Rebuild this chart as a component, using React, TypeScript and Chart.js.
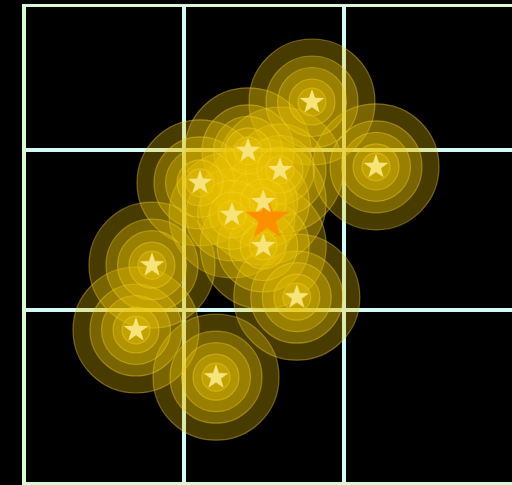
import { useEffect, useRef } from 'react';
import { Chart, registerables } from 'chart.js';

Chart.register(...registerables);

// Star markers (data values)
const xValues = [18, 14, 16, 11, 22, 14.95, 13, 14.95, 8, 17.05, 7, 12];
const yValues = [13, 9.95, 8.75, 7.95, 8.95, 6.75, 5.95, 4, 2.8, 0.8, -1.25, -4.2];

// Highlighted (orange) marker
const highlightX = [15.2];
const highlightY = [5.7];

// Axis ranges and grid ticks
const xMin = 0;
const xMax = 31.3125;
const yMin = -10.875;
const yMax = 19.03125;
const xTicks = [10, 20];
const yTicks = [0, 10];

// Ripple ring radii
const ringRadii = [14, 23, 34.5, 46, 63];

function makeStar(R: number, fill: string): HTMLCanvasElement {
  const size = Math.ceil(R * 2 + 2);
  const c = document.createElement('canvas');
  c.width = size;
  c.height = size;
  const ctx = c.getContext('2d')!;
  const cx = size / 2;
  const cy = size / 2;
  ctx.beginPath();
  for (let i = 0; i < 10; i++) {
    const rad = i % 2 === 0 ? R : R * 0.4;
    const a = -Math.PI / 2 + (i * Math.PI) / 5;
    const px = cx + rad * Math.cos(a);
    const py = cy + rad * Math.sin(a);
    if (i === 0) ctx.moveTo(px, py);
    else ctx.lineTo(px, py);
  }
  ctx.closePath();
  ctx.fillStyle = fill;
  ctx.fill();
  return c;
}

const GRID = 'rgb(212,250,248)';
const BORDER = 'rgb(218,248,212)';

export default function App() {
  const ref = useRef<HTMLCanvasElement>(null);
  useEffect(() => {
    if (!ref.current) return;
    const pts = xValues.map((x, i) => ({ x, y: yValues[i] }));
    const hl = highlightX.map((x, i) => ({ x, y: highlightY[i] }));
    const starImg = makeStar(13, 'rgb(246,228,122)');
    const orangeImg = makeStar(23, 'rgba(255,140,0,0.93)');
    const ringSets = ringRadii.map((r) => ({
      label: 'ring' + r,
      data: pts,
      pointStyle: 'circle' as const,
      pointRadius: r,
      pointHoverRadius: r,
      backgroundColor: 'rgba(235,195,0,0.3)',
      borderColor: 'rgba(250,215,50,0.4)',
      borderWidth: 1.2,
    }));
    const chart = new Chart(ref.current, {
      type: 'scatter',
      data: {
        datasets: [
          { label: 'stars', data: pts, pointStyle: starImg as any, pointRadius: 13 },
          { label: 'highlight', data: hl, pointStyle: orangeImg as any, pointRadius: 23 },
          ...ringSets,
        ],
      },
      options: {
        responsive: true,
        maintainAspectRatio: false,
        animation: false,
        events: [],
        layout: { autoPadding: false, padding: { left: 24, top: 5.5, right: 5, bottom: 6 } },
        plugins: { legend: { display: false }, tooltip: { enabled: false } },
        scales: {
          x: {
            type: 'linear',
            position: 'bottom',
            min: xMin,
            max: xMax,
            afterBuildTicks: (s: any) => {
              s.ticks = xTicks.map((v) => ({ value: v }));
            },
            grid: { color: GRID, lineWidth: 4, drawTicks: false },
            border: { display: true, color: BORDER, width: 4 },
            ticks: { display: false },
          },
          xTop: {
            type: 'linear',
            position: 'top',
            min: xMin,
            max: xMax,
            grid: { display: false, drawTicks: false },
            border: { display: true, color: BORDER, width: 3 },
            ticks: { display: false },
          },
          y: {
            type: 'linear',
            min: yMin,
            max: yMax,
            afterBuildTicks: (s: any) => {
              s.ticks = yTicks.map((v) => ({ value: v }));
            },
            grid: { color: GRID, lineWidth: 4, drawTicks: false },
            border: { display: true, color: BORDER, width: 4 },
            ticks: { display: false },
          },
        },
      },
    });
    return () => chart.destroy();
  }, []);
  return (
    <div style={{ position: 'fixed', left: 0, top: 0, width: 530, height: 490, background: '#000' }}>
      <canvas ref={ref} />
    </div>
  );
}
